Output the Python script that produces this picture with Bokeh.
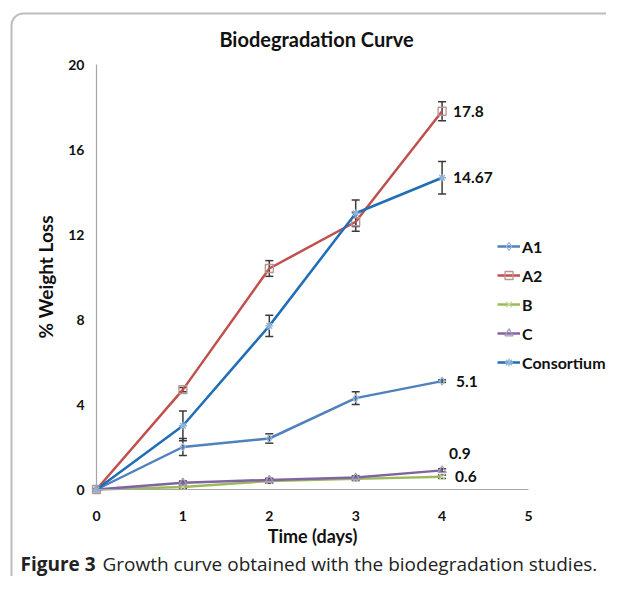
from bokeh.plotting import figure
from bokeh.models import (ColumnDataSource, Range1d, FixedTicker, Label, Legend, LegendItem,
                          Whisker, TeeHead, BoxAnnotation)
from bokeh.core.properties import value
from bokeh.embed import file_html
from bokeh.resources import INLINE

# ---- data ----
days = [0, 1, 2, 3, 4]
a1 = [0, 2.0, 2.4, 4.3, 5.1]
a2 = [0, 4.7, 10.4, 12.6, 17.8]
b = [0, 0.12, 0.4, 0.5, 0.6]
c = [0, 0.32, 0.45, 0.56, 0.9]
consortium = [0, 3.0, 7.7, 13.0, 14.67]

a1_err = [0, 0.4, 0.22, 0.3, 0.06]
a2_err = [0, 0.1, 0.37, 0.45, 0.45]
b_err = [0, 0.08, 0.1, 0.08, 0.08]
c_err = [0, 0.08, 0.08, 0.08, 0.08]
cons_err = [0, 0.7, 0.5, 0.62, 0.76]

series_names = ["A1", "A2", "B", "C", "Consortium"]
x_ticks = [0, 1, 2, 3, 4, 5]
y_ticks = [0, 4, 8, 12, 16, 20]

end_labels = ["17.8", "14.67", "5.1", "0.9", "0.6"]
end_label_values = [17.8, 14.67, 5.1, 0.9, 0.6]

FONT = "Lato"
W, H = 606, 576
# pixel placement of the data area inside the canvas
X0_PX, X5_PX = 96, 528
Y0_PX, Y20_PX = 489, 64
xs = (X5_PX - X0_PX) / 5.0
ys_ = (Y0_PX - Y20_PX) / 20.0

p = figure(width=W, height=H, output_backend="svg", toolbar_location=None,
           x_range=Range1d(-X0_PX / xs, 5 + (W - X5_PX) / xs),
           y_range=Range1d(-(H - Y0_PX) / ys_, 20 + Y20_PX / ys_),
           min_border=0)
p.outline_line_color = None
p.grid.visible = False
p.background_fill_color = "white"
p.border_fill_color = "white"

p.xaxis.fixed_location = 0
p.yaxis.fixed_location = 0
p.xaxis.bounds = (0, 5)
p.yaxis.bounds = (0, 20)

for ax in (p.xaxis[0], p.yaxis[0]):
    ax.axis_line_color = "#a6a6a6"
    ax.axis_line_width = 1.2
    ax.major_tick_line_color = None
    ax.minor_tick_line_color = None
    ax.major_label_text_font = FONT
    ax.major_label_text_font_style = "bold"
    ax.major_label_text_font_size = "14px"
    ax.major_label_text_color = "#111111"
    ax.axis_label_text_font = FONT
    ax.axis_label_text_font_style = "bold"
    ax.axis_label_text_color = "#111111"

p.xaxis.axis_label_text_font_size = "18px"
p.yaxis.axis_label_text_font_size = "19px"
p.xaxis.ticker = FixedTicker(ticks=x_ticks)
p.yaxis.ticker = FixedTicker(ticks=y_ticks)
p.xaxis.major_label_standoff = 15
p.yaxis.major_label_standoff = 6
p.xaxis.axis_label = "Time (days)"
p.yaxis.axis_label = "% Weight Loss"
p.xaxis.axis_label_standoff = 1
p.yaxis.axis_label_standoff = 8

styles = [
    ("#4F81BD", "diamond", "#9FB6D8", a1, a1_err),
    ("#C0504D", "square", "#B99494", a2, a2_err),
    ("#9BBB59", "x", "#C9DAA8", b, b_err),
    ("#8064A2", "triangle", "#A898BC", c, c_err),
    ("#1F6EB6", "asterisk", "#8EB4D8", consortium, cons_err),
]

items = []
for name, (lc, marker, mc, yv, errs) in zip(series_names, styles):
    src = ColumnDataSource(dict(x=days, y=yv,
                                lo=[v - e for v, e in zip(yv, errs)],
                                hi=[v + e for v, e in zip(yv, errs)]))
    r_line = p.line("x", "y", source=src, line_color=lc, line_width=2.5)
    r_mark = p.scatter("x", "y", source=src, marker=marker, size=8,
                       line_color=mc, fill_color="white", fill_alpha=0.0, line_width=1.3)
    w = Whisker(source=src, base="x", upper="hi", lower="lo",
                line_color="#3a3a3a", line_width=1.5,
                upper_head=TeeHead(size=8, line_color="#3a3a3a", line_width=1.5),
                lower_head=TeeHead(size=8, line_color="#3a3a3a", line_width=1.5))
    p.add_layout(w)
    items.append(LegendItem(label=name, renderers=[r_line, r_mark]))

legend = Legend(items=items, location=(497, 204), padding=0, margin=0, spacing=9,
                glyph_width=23, glyph_height=20, label_height=20, label_standoff=2,
                label_text_font=FONT, label_text_font_style="bold", label_text_font_size="16px",
                label_text_color="#111111", background_fill_alpha=0, border_line_color=None)
p.add_layout(legend)

# end-of-series value labels
lab_src = ColumnDataSource(dict(x=[4] * 5, y=end_label_values, t=end_labels,
                                dx=[11, 11, 14, 7, 13], dy=[0, 0, 0, -17, 0]))
p.text("x", "y", text="t", source=lab_src, x_offset="dx", y_offset="dy",
       text_font=value(FONT), text_font_style="bold", text_font_size="15.5px",
       text_baseline="middle", text_align="left", text_color="#111111")

# title
p.add_layout(Label(x=316, y=H - 38, x_units="screen", y_units="screen",
                   text="Biodegradation Curve", text_font=FONT, text_font_style="bold",
                   text_font_size="20px", text_align="center", text_baseline="middle",
                   text_color="#111111"))

# caption
CAP_Y = H - 563
p.add_layout(Label(x=20, y=CAP_Y, x_units="screen", y_units="screen",
                   text="Figure 3", text_font="Open Sans", text_font_style="bold",
                   text_font_size="19px", text_baseline="middle", text_color="#222222"))
p.add_layout(Label(x=102, y=CAP_Y, x_units="screen", y_units="screen",
                   text="Growth curve obtained with the biodegradation studies.",
                   text_font="Open Sans", text_font_size="19px",
                   text_baseline="middle", text_color="#222222"))

# rounded frame border
p.add_layout(BoxAnnotation(left=11, right=W + 60, top=H - 13, bottom=-30,
                           left_units="screen", right_units="screen",
                           top_units="screen", bottom_units="screen",
                           fill_alpha=0, line_color="#222222", line_width=2,
                           border_radius=12, level="overlay"))

open("out.html", "w").write(file_html(p, INLINE))
